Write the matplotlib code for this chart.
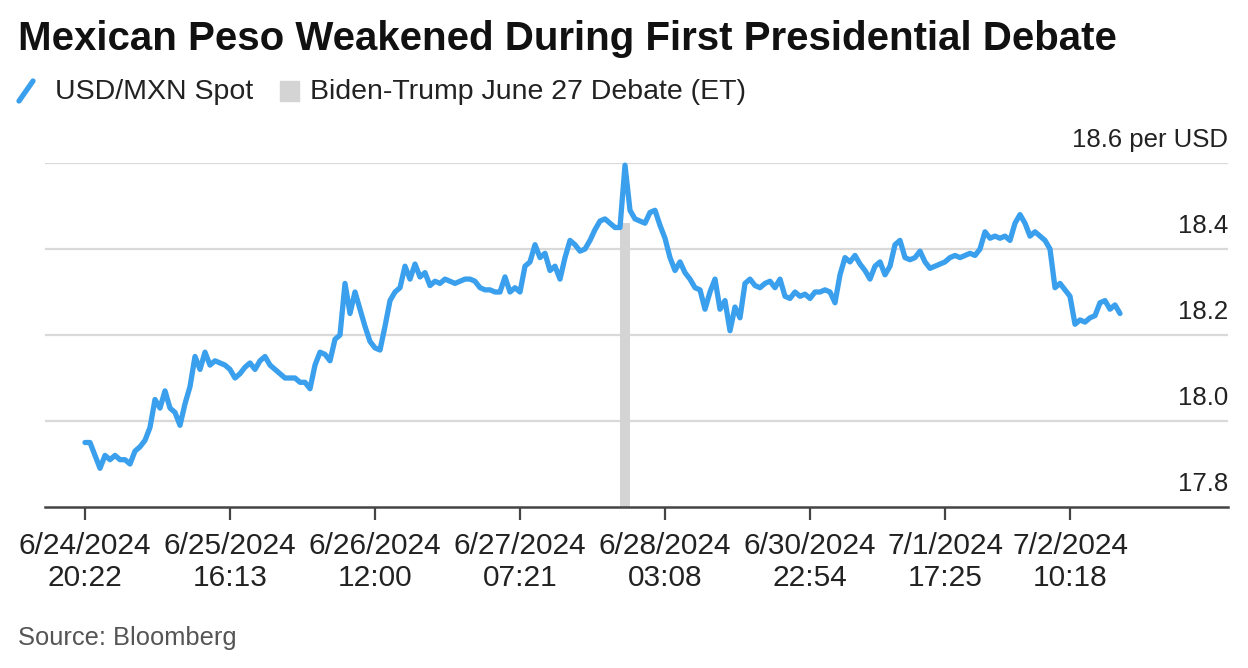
import numpy as np
import matplotlib
matplotlib.use("Agg")
import matplotlib.pyplot as plt
import matplotlib.transforms as mtransforms
from matplotlib.lines import Line2D
from matplotlib.patches import Rectangle

TITLE = "Mexican Peso Weakened During First Presidential Debate"
SERIES_LABEL = "USD/MXN Spot"
BAND_LABEL = "Biden-Trump June 27 Debate (ET)"
SOURCE = "Source: Bloomberg"

# USD/MXN spot at evenly spaced trading intervals
usdmxn = [
    17.95, 17.95, 17.92, 17.89, 17.92, 17.91, 17.92, 17.91, 17.91, 17.90,
    17.93, 17.94, 17.955, 17.985, 18.05, 18.03, 18.07, 18.03, 18.02, 17.99,
    18.04, 18.08, 18.15, 18.12, 18.16, 18.13, 18.14, 18.135, 18.13, 18.12,
    18.10, 18.11, 18.125, 18.135, 18.12, 18.14, 18.15, 18.13, 18.12, 18.11,
    18.10, 18.10, 18.10, 18.09, 18.09, 18.075, 18.13, 18.16, 18.155, 18.14,
    18.19, 18.20, 18.32, 18.25, 18.30, 18.26, 18.22, 18.185, 18.17, 18.165,
    18.22, 18.28, 18.30, 18.31, 18.36, 18.33, 18.365, 18.335, 18.345, 18.315,
    18.325, 18.32, 18.33, 18.325, 18.32, 18.325, 18.33, 18.33, 18.325, 18.31,
    18.305, 18.305, 18.30, 18.30, 18.335, 18.30, 18.31, 18.30, 18.36, 18.37,
    18.41, 18.38, 18.39, 18.35, 18.36, 18.33, 18.38, 18.42, 18.41, 18.395,
    18.40, 18.42, 18.445, 18.465, 18.47, 18.46, 18.45, 18.45, 18.595, 18.49,
    18.47, 18.465, 18.46, 18.485, 18.49, 18.455, 18.425, 18.38, 18.35, 18.37,
    18.345, 18.33, 18.31, 18.305, 18.26, 18.30, 18.33, 18.26, 18.28, 18.21,
    18.265, 18.24, 18.32, 18.33, 18.315, 18.31, 18.32, 18.325, 18.31, 18.33,
    18.29, 18.285, 18.30, 18.29, 18.295, 18.285, 18.30, 18.30, 18.305, 18.30,
    18.275, 18.34, 18.38, 18.37, 18.385, 18.365, 18.35, 18.33, 18.36, 18.37,
    18.34, 18.36, 18.41, 18.42, 18.38, 18.375, 18.38, 18.395, 18.37, 18.355,
    18.36, 18.365, 18.37, 18.38, 18.385, 18.38, 18.385, 18.39, 18.385, 18.40,
    18.44, 18.425, 18.43, 18.425, 18.43, 18.42, 18.46, 18.48, 18.46, 18.43,
    18.44, 18.43, 18.42, 18.40, 18.31, 18.32, 18.305, 18.29, 18.225, 18.235,
    18.23, 18.24, 18.245, 18.275, 18.28, 18.26, 18.27, 18.25,
]

tick_idx = [0, 29, 58, 87, 116, 145, 172, 197]
tick_labels = ["6/24/2024\n20:22", "6/25/2024\n16:13", "6/26/2024\n12:00", "6/27/2024\n07:21",
               "6/28/2024\n03:08", "6/30/2024\n22:54", "7/1/2024\n17:25", "7/2/2024\n10:18"]
y_ticks = [17.8, 18.0, 18.2, 18.4, 18.6]
y_tick_labels = ["17.8", "18.0", "18.2", "18.4", "18.6 per USD"]
debate_start, debate_end = 107, 109

LINE_COLOR = "#3a9fec"
BAND_COLOR = "#d4d4d4"
GRID_COLOR = "#d9d9d9"
TEXT_COLOR = "#222222"

plt.rcParams["font.family"] = ["Liberation Sans", "DejaVu Sans"]

W, H = 1248, 668
fig = plt.figure(figsize=(W / 100, H / 100), dpi=100)
ax = fig.add_axes([45 / W, 1 - 507 / H, (1228 - 45) / W, (507 - 163) / H])

x = np.arange(len(usdmxn))
y = np.array(usdmxn)

for v in y_ticks[1:]:
    ax.axhline(v, color=GRID_COLOR, lw=1.6, zorder=0)

band_top = y[debate_start] + 0.01
ax.fill_between([debate_start, debate_end], y_ticks[0], band_top, color=BAND_COLOR, lw=0, zorder=1)
ax.plot(x, y, color=LINE_COLOR, lw=3.8, solid_joinstyle="round", solid_capstyle="round", zorder=3, clip_on=False)

ax.set_xlim(-8, 228.6)
ax.set_ylim(y_ticks[0], y_ticks[-1])

for s in ["top", "right", "left"]:
    ax.spines[s].set_visible(False)
ax.spines["bottom"].set_color("#444444")
ax.spines["bottom"].set_linewidth(1.8)

ax.set_yticks([])
ax.set_xticks(tick_idx)
ax.set_xticklabels(tick_labels, fontsize=21.5, color=TEXT_COLOR, linespacing=1.2)
ax.tick_params(axis="x", length=9, width=1.6, color="#444444", pad=9)

ytrans = mtransforms.offset_copy(ax.get_yaxis_transform(), fig=fig, y=16, units="dots")
for v, lab in zip(y_ticks, y_tick_labels):
    ax.text(1.0, v, lab, transform=ytrans, ha="right", va="baseline", fontsize=18.5, color=TEXT_COLOR)

fig.text(18 / W, 1 - 50 / H, TITLE, fontsize=29, fontweight="bold", color="#111111", va="baseline", ha="left")

# legend row
fig.add_artist(Line2D([19 / W, 33 / W], [1 - 101 / H, 1 - 81 / H], color=LINE_COLOR, lw=3.8, solid_capstyle="round"))
fig.text(55 / W, 1 - 99 / H, SERIES_LABEL, fontsize=20.5, color=TEXT_COLOR, va="baseline")
fig.add_artist(Rectangle((280 / W, 1 - 101 / H), 19 / W, 20 / H, color=BAND_COLOR, transform=fig.transFigure))
fig.text(310 / W, 1 - 99 / H, BAND_LABEL, fontsize=20.5, color=TEXT_COLOR, va="baseline")

fig.text(18 / W, 1 - 645 / H, SOURCE, fontsize=18.4, color="#555555", va="baseline")

fig.savefig("out.png", dpi=100, facecolor="white")
